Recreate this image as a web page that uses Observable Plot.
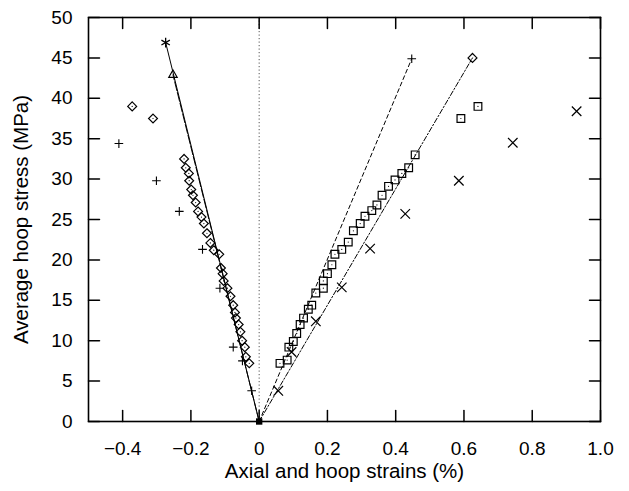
<!DOCTYPE html>
<html><head><meta charset="utf-8">
<script src="https://cdn.jsdelivr.net/npm/d3@7"></script>
<script src="https://cdn.jsdelivr.net/npm/@observablehq/plot@0.6"></script>
<style>body{margin:0;background:#fff}</style>
</head><body><div id="chart"></div>
<script>
const xTicks = [-0.4, -0.2, 0, 0.2, 0.4, 0.6, 0.8, 1.0];
const xTickLabels = ["−0.4", "−0.2", "0", "0.2", "0.4", "0.6", "0.8", "1.0"];
const yTicks = [0, 5, 10, 15, 20, 25, 30, 35, 40, 45, 50];
const xTitle = "Axial and hoop strains (%)";
const yTitle = "Average hoop stress (MPa)";

// measured points [strain %, stress MPa]
const axialPlus = [[-0.411,34.4],[-0.301,29.8],[-0.234,26.0],[-0.166,21.3],[-0.115,16.5],[-0.076,9.2],[-0.049,7.5],[-0.022,3.8]];
const hoopTimes = [[0.056,3.8],[0.095,8.6],[0.166,12.4],[0.242,16.6],[0.325,21.4],[0.428,25.7],[0.585,29.8],[0.743,34.5],[0.930,38.4]];
const axialDiamond = [[-0.372,39.0],[-0.311,37.5],[-0.220,32.5],[-0.215,31.4],[-0.206,30.7],[-0.205,29.8],[-0.199,28.7],[-0.194,28.0],[-0.186,27.1],[-0.179,26.0],[-0.169,25.3],[-0.162,24.5],[-0.153,23.3],[-0.143,22.1],[-0.133,21.2],[-0.117,20.7],[-0.112,19.0],[-0.107,18.3],[-0.104,17.4],[-0.093,16.5],[-0.084,15.5],[-0.076,14.4],[-0.071,13.5],[-0.068,12.8],[-0.060,12.0],[-0.055,11.1],[-0.050,10.0],[-0.042,9.2],[-0.039,8.0],[-0.029,7.2]];
const hoopSquare = [[0.061,7.2],[0.082,7.6],[0.087,9.2],[0.100,9.9],[0.110,10.9],[0.120,12.0],[0.130,12.8],[0.144,13.9],[0.154,14.4],[0.166,15.9],[0.188,16.5],[0.188,17.4],[0.200,18.3],[0.213,19.4],[0.222,20.7],[0.242,21.3],[0.261,22.2],[0.276,23.6],[0.296,24.5],[0.310,25.4],[0.330,26.1],[0.345,26.8],[0.360,28.0],[0.379,29.1],[0.398,29.9],[0.418,30.7],[0.438,31.4],[0.457,33.0],[0.591,37.5],[0.641,39.0]];

// predicted linear responses
const predAxialA = [[0,0],[-0.274,46.9]];
const predAxialB = [[0,0],[-0.2525,42.9]];
const predHoopC = [[0,0],[0.447,44.9]];
const predHoopD = [[0,0],[0.625,45.0]];
const origin = [[0,0]];
const zeroStrain = [0];

const xDomain = [-0.5, 1.0], yDomain = [0, 50];
const X = d => d[0], Y = d => d[1];
const last = a => [a[a.length - 1]];
const black = "#000";
const W = 629, H = 491, ML = 88, MR = 29, MT = 17, MB = 70;
const FW = W - ML - MR, FH = H - MT - MB;
const T = 11; // inward tick length in px
const tx = T * (xDomain[1] - xDomain[0]) / FW;
const ty = T * (yDomain[1] - yDomain[0]) / FH;
const xTickSegs = xTicks.flatMap(v => [{x: v, y: yDomain[0], z: "b" + v}, {x: v, y: yDomain[0] + ty, z: "b" + v}, {x: v, y: yDomain[1], z: "t" + v}, {x: v, y: yDomain[1] - ty, z: "t" + v}]);
const yTickSegs = yTicks.flatMap(v => [{x: xDomain[0], y: v, z: "l" + v}, {x: xDomain[0] + tx, y: v, z: "l" + v}, {x: xDomain[1], y: v, z: "r" + v}, {x: xDomain[1] - tx, y: v, z: "r" + v}]);

const chart = Plot.plot({
  width: W, height: H,
  marginLeft: ML, marginRight: MR, marginTop: MT, marginBottom: MB,
  style: {fontFamily: "'Liberation Sans', Arial, sans-serif", fontSize: "19px", background: "#fff", color: "#000"},
  x: {domain: xDomain, axis: null},
  y: {domain: yDomain, axis: null},
  marks: [
    Plot.ruleX(zeroStrain, {x: d => d, stroke: "#555", strokeWidth: 1, strokeDasharray: "1.2,2.3"}),
    Plot.line(predAxialA, {x: X, y: Y, stroke: black, strokeWidth: 1}),
    Plot.line(predAxialB, {x: X, y: Y, stroke: black, strokeWidth: 1, strokeDasharray: "9,2"}),
    Plot.line(predHoopC, {x: X, y: Y, stroke: black, strokeWidth: 1, strokeDasharray: "4,3"}),
    Plot.line(predHoopD, {x: X, y: Y, stroke: black, strokeWidth: 1, strokeDasharray: "5,2,1.5,2"}),
    Plot.dot(last(predAxialA), {x: X, y: Y, symbol: "asterisk", r: 4.6, stroke: black, strokeWidth: 1.3}),
    Plot.dot(last(predAxialB), {x: X, y: Y, symbol: "triangle2", r: 4, stroke: black, strokeWidth: 1.2}),
    Plot.dot(last(predHoopC), {x: X, y: Y, symbol: "plus", r: 2.9, stroke: black, strokeWidth: 1.1}),
    Plot.dot(last(predHoopD), {x: X, y: Y, symbol: "diamond2", r: 4, stroke: black, strokeWidth: 1.2}),
    Plot.dot(axialPlus, {x: X, y: Y, symbol: "plus", r: 2.9, stroke: black, strokeWidth: 1.1}),
    Plot.dot(hoopTimes, {x: X, y: Y, symbol: "times", r: 4.4, stroke: black, strokeWidth: 1.2}),
    Plot.dot(axialDiamond, {x: X, y: Y, symbol: "diamond2", r: 4, stroke: black, strokeWidth: 1.2}),
    Plot.dot(axialDiamond, {x: X, y: Y, r: 0.6, fill: black}),
    Plot.dot(hoopSquare, {x: X, y: Y, symbol: "square2", r: 4.9, stroke: black, strokeWidth: 1.2}),
    Plot.dot(hoopSquare, {x: X, y: Y, r: 0.6, fill: black}),
    Plot.dot(origin, {x: X, y: Y, symbol: "square", r: 3.6, fill: black}),
    // inward ticks on all four sides
    Plot.line(xTickSegs, {x: "x", y: "y", z: "z", stroke: black, strokeWidth: 1.5}),
    Plot.line(yTickSegs, {x: "x", y: "y", z: "z", stroke: black, strokeWidth: 1.5}),
    // tick labels
    Plot.axisX({anchor: "bottom", ticks: xTicks, tickSize: 0, tickPadding: 20, tickFormat: d => xTickLabels[xTicks.indexOf(d)], label: null}),
    Plot.axisY({anchor: "left", ticks: yTicks, tickSize: 0, tickPadding: 16, tickFormat: d => String(d), label: null}),
    Plot.frame({stroke: black, strokeWidth: 1.6}),
    Plot.text([xTitle], {text: d => d, frameAnchor: "bottom", dy: 50, fontSize: 20.5, textAnchor: "middle", lineAnchor: "middle"}),
    Plot.text([yTitle], {text: d => d, frameAnchor: "left", dx: -67, rotate: -90, fontSize: 20.5, textAnchor: "middle", lineAnchor: "middle"})
  ]
});
document.getElementById("chart").appendChild(chart);
</script>
</body></html>
